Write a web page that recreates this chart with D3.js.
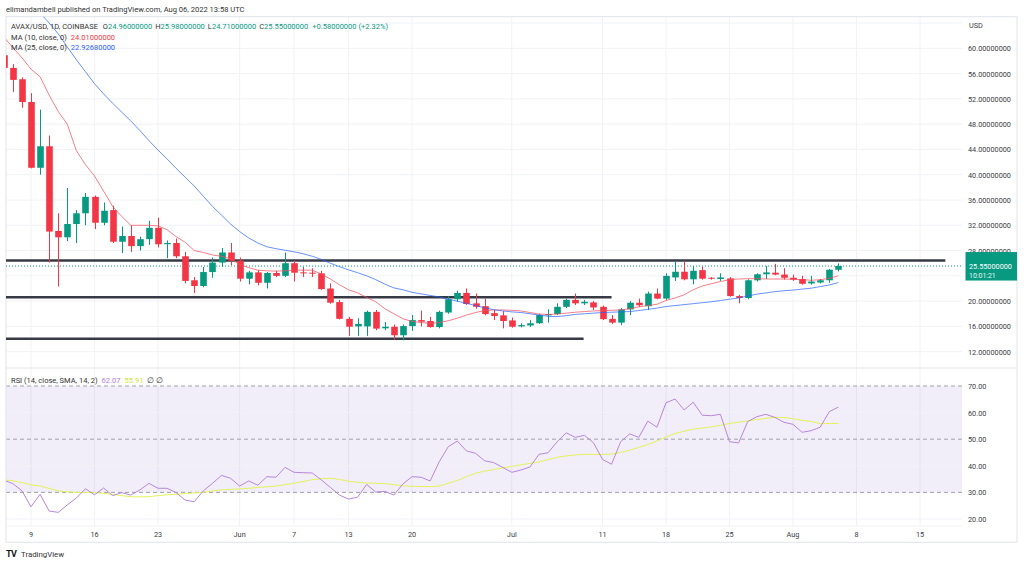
<!DOCTYPE html>
<html><head><meta charset="utf-8">
<script src="https://cdn.jsdelivr.net/npm/d3@7/dist/d3.min.js"></script>
<style>
body{margin:0;background:#fff}
svg{display:block}
text{font-family:Roboto,"Liberation Sans",Arial,sans-serif}
</style></head>
<body><svg id="c" width="1024" height="565"></svg>
<script>
// ---------- DATA ----------
const startDate = "2022-05-06";
const open  = [58.9,56.9,55.1,51.5,41.1,44.5,31.1,30.1,32.2,33.9,36.5,32.4,34.4,29.4,30.3,28.7,29.8,31.6,29.0,29.2,27.1,23.3,22.4,24.6,26.1,27.7,
 26.4,23.55,24.55,22.9,24.45,24.0,26.0,24.55,24.5,24.4,22.0,19.85,17.2,16.0,16.0,18.3,15.7,15.95,14.6,16.05,17.0,16.85,15.9,18.2,20.3,21.3,19.65,19.2,18.1,17.75,
 16.95,16.0,16.15,16.5,17.75,17.95,19.1,20.2,19.65,19.8,19.1,17.2,16.6,18.7,19.75,19.2,21.2,20.4,23.75,24.65,23.45,24.9,23.7,23.5,23.6,20.8,20.5,23.3,24.25,24.5,24.2,
 23.7,23.5,22.8,22.95,23.3,24.96];
const high  = [60.2,57.5,55.4,52.9,50.3,46.2,33.9,37.9,34.4,37.1,36.7,35.6,35.1,31.8,32.0,30.2,32.7,33.2,29.6,29.9,27.8,23.8,25.4,26.9,28.4,29.2,
 26.9,24.8,24.9,24.6,24.8,27.7,26.4,25.4,25.2,24.8,22.8,20.2,17.5,17.3,18.5,18.6,16.7,16.3,16.3,17.8,18.5,17.5,18.5,20.8,21.65,22.0,21.2,20.4,18.6,18.4,
 17.4,16.5,17.0,18.0,18.7,19.65,20.4,21.2,20.2,20.0,19.3,17.8,18.9,20.0,20.4,21.5,22.0,24.4,26.25,26.2,25.5,25.45,23.8,24.4,23.8,21.0,23.45,24.4,25.55,25.9,25.2,
 24.2,24.0,24.0,23.5,25.1,25.98];
const low   = [56.5,53.1,50.6,41.0,40.0,26.1,22.3,29.5,29.2,32.0,31.4,32.0,29.2,27.6,27.8,28.0,28.9,28.5,26.8,26.8,22.8,21.3,22.2,23.7,25.4,25.7,
 23.1,22.65,22.5,22.0,23.8,23.8,23.1,23.8,23.8,21.8,19.6,17.1,14.5,14.5,14.5,15.4,15.4,13.85,13.8,15.3,16.0,15.8,15.7,18.0,19.9,19.4,18.8,17.75,17.0,15.7,
 15.8,15.85,15.9,16.4,16.6,17.8,18.9,19.4,19.4,18.6,17.0,16.4,16.2,17.8,19.1,18.6,20.3,20.2,23.2,23.3,22.65,23.4,23.4,23.2,20.7,19.65,20.3,23.1,23.5,24.1,23.4,
 23.2,22.6,22.6,22.8,22.9,24.71];
const close = [56.9,55.0,51.5,41.1,44.5,31.0,30.1,32.2,33.9,36.5,32.4,34.3,29.4,30.3,28.7,29.8,31.6,29.0,29.2,27.1,23.2,22.4,24.6,26.1,27.7,26.4,
 23.55,24.55,22.9,24.45,24.0,26.0,24.5,24.4,24.35,21.9,19.75,17.2,15.95,16.4,18.3,15.65,15.95,14.6,16.05,17.0,16.75,15.9,18.3,20.3,21.3,19.55,19.1,17.95,17.65,16.85,
 15.95,16.2,16.5,17.8,17.95,19.1,20.2,19.65,19.9,19.0,17.15,16.6,18.7,19.75,19.35,21.2,20.4,24.0,24.65,23.45,24.8,23.55,23.55,23.75,20.8,20.5,23.3,24.25,24.55,24.2,23.7,
 23.4,22.75,23.1,23.3,24.97,25.55];
const ma10 = [61.8,60.1,58.5,56.7,55.5,52.6,50.0,48.0,43.8,41.6,39.8,37.4,35.0,33.4,32.0,32.0,32.0,31.9,31.3,30.2,29.3,28.0,27.7,27.3,27.1,26.7,
 25.8,25.3,24.9,24.8,24.75,24.8,24.9,24.9,24.9,24.3,23.5,22.6,21.8,21.3,20.6,19.9,18.8,18.0,17.2,16.8,16.6,16.5,16.6,16.9,17.3,17.8,18.2,18.5,18.6,18.6,
 18.55,18.45,18.2,17.95,17.9,17.95,18.1,18.25,18.35,18.45,18.5,18.55,18.6,18.8,19.1,19.3,19.5,20.1,20.5,21.0,21.8,22.4,22.75,23.1,23.4,23.5,23.55,23.55,23.5,23.5,23.5,
 23.45,23.4,23.3,23.4,23.6,24.01];
const ma25 = [73.5,72.0,70.0,67.5,65.6,64.0,62.3,60.2,58.2,56.3,54.4,52.8,51.3,49.9,48.5,47.0,45.4,43.9,42.5,41.0,39.6,38.2,36.6,35.0,33.6,32.2,
 31.0,30.0,29.2,28.6,28.3,28.05,27.8,27.5,27.1,26.6,26.0,25.45,24.95,24.5,24.0,23.4,22.7,22.1,21.8,21.4,21.15,20.9,20.65,20.3,20.0,19.65,19.3,18.95,18.65,18.45,
 18.3,18.2,18.0,17.8,17.6,17.55,17.7,17.9,18.0,18.1,18.2,18.25,18.3,18.35,18.5,18.7,18.9,19.15,19.3,19.45,19.6,19.75,19.9,20.1,20.3,20.5,20.8,21.1,21.3,21.5,21.65,
 21.75,21.9,22.05,22.3,22.55,22.9268];
const rsi = [34.6,33.3,30.6,24.6,29.3,23.0,22.5,25.3,27.9,31.4,29.1,31.65,28.8,29.9,29.0,30.9,33.4,31.55,31.55,29.9,27.1,26.5,30.6,33.4,36.4,35.3,
 32.4,34.3,32.7,35.9,35.7,39.4,37.55,37.4,37.3,34.7,31.9,29.0,27.5,28.2,33.0,30.15,30.4,29.0,33.2,35.9,35.7,34.3,41.5,47.2,49.3,45.6,44.7,41.9,41.2,39.4,
 37.55,38.4,39.55,44.3,44.9,49.05,52.4,50.7,51.45,48.7,42.4,40.6,49.05,52.0,50.7,56.8,54.5,63.7,65.1,61.0,63.9,59.0,58.85,59.35,49.05,48.6,56.6,58.45,59.35,58.2,56.35,
 55.6,52.6,53.2,54.5,60.35,62.07];
const rsiSma = [34.7,34.4,33.7,32.8,32.4,31.5,30.6,30.2,30.0,29.95,29.9,29.7,29.2,28.8,28.4,28.3,28.4,28.8,29.1,29.3,29.55,29.8,30.05,30.5,30.95,31.1,
 31.3,31.55,31.85,32.1,32.4,32.9,33.45,34.1,34.8,35.1,35.3,34.9,34.2,33.75,33.55,33.45,33.3,32.9,32.5,32.3,32.2,32.15,32.4,33.4,34.5,35.9,37.2,38.0,38.6,39.2,
 39.8,40.35,40.9,41.45,42.3,43.2,43.7,44.1,44.3,44.3,44.3,44.4,45.0,45.9,46.9,48.0,49.3,50.8,52.2,53.0,53.8,54.2,54.65,55.2,55.9,56.4,56.9,57.35,57.85,58.2,58.15,
 57.7,57.1,56.7,55.8,55.9,55.91];
const priceTicks = [12,16,20,24,28,32,36,40,44,48,52,56,60,64];
const rsiTicks = [20,30,40,50,60,70];
const rsiDashed = [30,50,70];
const timeTicks = ["2022-05-09","2022-05-16","2022-05-23","2022-06-01","2022-06-07","2022-06-13","2022-06-20","2022-07-01","2022-07-11","2022-07-18","2022-07-25","2022-08-01","2022-08-08","2022-08-15"];
const timeTickLabels = ["9","16","23","Jun","7","13","20","Jul","11","18","25","Aug","8","15"];
const levelPrices = [26.43, 20.61, 14.06];
const levelStarts = ["2022-05-06","2022-05-06","2022-05-06"];
const levelEnds = ["2022-08-17T19:00","2022-07-12T00:00","2022-07-08T22:00"];
const lastPrice = 25.55;
const lastCountdown = "10:01:21";

// ---------- LAYOUT ----------
const svg = d3.select("#c");
const L = 6, R = 962, FR = 1017, TOP = 16.7, BOT = 542.3;
const P1top = TOP, P1bot = 368, P2top = 368, P2bot = 526;
const parse = d3.utcParse("%Y-%m-%d"), parseT = d3.utcParse("%Y-%m-%dT%H:%M");
const pd = s => parse(s) || parseT(s);
const dates = d3.range(close.length).map(i => d3.utcDay.offset(pd(startDate), i));

const x = d3.scaleUtc().domain([pd("2022-05-09"), pd("2022-08-15")]).range([31, 920]);
const y = d3.scaleLinear().domain([12, 60]).range([351.7, 48.3]);
const yr = d3.scaleLinear().domain([20, 70]).range([519, 386]);

// scale a text's font so that its width matches a target width
function fit(sel, target) {
  const w = sel.node().getComputedTextLength();
  if (w > 0) sel.attr("font-size", (+sel.attr("font-size")) * target / w);
  return sel;
}

const defs = svg.append("defs");
defs.append("clipPath").attr("id","cp1").append("rect").attr("x",L).attr("y",P1top).attr("width",R-L).attr("height",P1bot-P1top);
defs.append("clipPath").attr("id","cp2").append("rect").attr("x",L).attr("y",P2top).attr("width",R-L).attr("height",P2bot-P2top);

const GRID = "#f0f2f7";
// axis font size derived from the width of a price label
const probe = svg.append("text").attr("font-size",8).text("60.00000000");
fit(probe, 43);
const AFS = +probe.attr("font-size");
probe.remove();

// header
fit(svg.append("text").attr("x",6).attr("y",11.8).attr("font-size",8).attr("fill","#333")
  .text("elimandambell published on TradingView.com, Aug 06, 2022 13:58 UTC"), 239);

// grid
const g = svg.append("g");
timeTicks.forEach(t => {
  g.append("line").attr("x1",x(pd(t))).attr("x2",x(pd(t))).attr("y1",P1top).attr("y2",P2bot).attr("stroke",GRID).attr("stroke-width",1);
});
priceTicks.forEach(v => {
  g.append("line").attr("x1",L).attr("x2",R).attr("y1",y(v)).attr("y2",y(v)).attr("stroke",GRID);
});
// RSI band
const p2 = svg.append("g");
p2.append("rect").attr("x",L).attr("width",R-L).attr("y",yr(70)).attr("height",yr(30)-yr(70)).attr("fill","#7e57c2").attr("fill-opacity",0.1);
rsiTicks.forEach(v => {
  if (rsiDashed.includes(v)) {
    p2.append("line").attr("x1",L).attr("x2",R).attr("y1",yr(v)).attr("y2",yr(v)).attr("stroke","#9598a1").attr("stroke-dasharray","4,3").attr("stroke-width",0.9);
  } else {
    p2.append("line").attr("x1",L).attr("x2",R).attr("y1",yr(v)).attr("y2",yr(v)).attr("stroke",GRID);
  }
});

// frame
svg.append("rect").attr("x",L).attr("y",TOP).attr("width",FR-L).attr("height",BOT-TOP).attr("fill","none").attr("stroke","#e0e3eb").attr("stroke-width",1);
svg.append("line").attr("x1",L).attr("x2",FR).attr("y1",P1bot).attr("y2",P1bot).attr("stroke","#e0e3eb");
svg.append("line").attr("x1",L).attr("x2",R).attr("y1",P2bot).attr("y2",P2bot).attr("stroke","#f0f2f7");

// price pane marks
const p1 = svg.append("g").attr("clip-path","url(#cp1)");
levelPrices.forEach((v,i) => {
  p1.append("line").attr("x1",x(pd(levelStarts[i]))).attr("x2",x(pd(levelEnds[i])))
    .attr("y1",y(v)).attr("y2",y(v)).attr("stroke","#363a45").attr("stroke-width",2.4);
});
p1.append("line").attr("x1",L).attr("x2",R).attr("y1",y(lastPrice)).attr("y2",y(lastPrice))
  .attr("stroke","#089981").attr("stroke-width",1).attr("stroke-dasharray","1,2");

const UP = "#089981", DN = "#f23645";
const bw = 6.6;
const candles = p1.append("g");
dates.forEach((d,i) => {
  const c = close[i] >= open[i] ? UP : DN;
  const cx = Math.round(x(d)) + 0.5;
  candles.append("line").attr("x1",cx).attr("x2",cx).attr("y1",y(high[i])).attr("y2",y(low[i])).attr("stroke",c).attr("stroke-width",1);
  const top = y(Math.max(open[i],close[i])), bot = y(Math.min(open[i],close[i]));
  candles.append("rect").attr("x",cx-bw/2).attr("width",bw).attr("y",top).attr("height",Math.max(1,bot-top)).attr("fill",c);
});
const lineP = arr => d3.line().x((d,i)=>x(dates[i])).y(d=>y(d))(arr);
p1.append("path").attr("d",lineP(ma10)).attr("fill","none").attr("stroke","#f7525f").attr("stroke-opacity",0.75).attr("stroke-width",1);
p1.append("path").attr("d",lineP(ma25)).attr("fill","none").attr("stroke","#2962ff").attr("stroke-opacity",0.7).attr("stroke-width",1);

// RSI lines
const p2c = svg.append("g").attr("clip-path","url(#cp2)");
const lineR = arr => d3.line().x((d,i)=>x(dates[i])).y(d=>yr(d))(arr);
p2c.append("path").attr("d",lineR(rsiSma)).attr("fill","none").attr("stroke","#e4f25a").attr("stroke-width",1);
p2c.append("path").attr("d",lineR(rsi)).attr("fill","none").attr("stroke","#b886dc").attr("stroke-width",1);

// last price label box geometry
const ly = y(lastPrice);
const boxTop = ly - 14, boxBot = ly + 14.5;

// axes labels
const AX = "#3a3d45";
priceTicks.forEach(v => {
  if (v === 64) return;
  const ty = y(v);
  if (ty > boxTop + 2 && ty < boxBot) return; // hidden behind last-price label
  svg.append("text").attr("x",968).attr("y",ty+3).attr("font-size",AFS).attr("fill",AX).text(v.toFixed(8));
});
svg.append("text").attr("x",969).attr("y",27.5).attr("font-size",AFS).attr("fill",AX).text("USD");
rsiTicks.forEach(v => {
  svg.append("text").attr("x",968).attr("y",yr(v)+3).attr("font-size",AFS).attr("fill",AX).text(v.toFixed(2));
});
timeTicks.forEach((t,i) => {
  svg.append("text").attr("x",x(pd(t))).attr("y",537).attr("text-anchor","middle").attr("font-size",AFS).attr("fill",AX).text(timeTickLabels[i]);
});

svg.append("rect").attr("x",965.5).attr("y",boxTop).attr("width",51.5).attr("height",boxBot-boxTop).attr("fill","#089981");
svg.append("text").attr("x",969).attr("y",ly+3).attr("font-size",AFS).attr("fill","#fff").text(lastPrice.toFixed(8));
svg.append("text").attr("x",969).attr("y",ly+12.2).attr("font-size",AFS*0.95).attr("fill","#e8f6f3").text(lastCountdown);

// legends
const leg = svg.append("text").attr("x",11).attr("y",29.2).attr("font-size",8).attr("fill","#333");
leg.append("tspan").text("AVAX/USD, 1D, COINBASE ");
const ohlcLast = [["O",open],["H",high],["L",low],["C",close]];
const n = close.length - 1;
ohlcLast.forEach(([k,arr]) => {
  leg.append("tspan").attr("dx",3).attr("fill","#333").text(k);
  leg.append("tspan").attr("fill",UP).text(arr[n].toFixed(8));
});
const chg = close[n] - close[n-1];
leg.append("tspan").attr("dx",4).attr("fill",UP).text("+" + chg.toFixed(8) + " (+" + (chg/close[n-1]*100).toFixed(2) + "%)");
fit(leg, 362);
const LFS = +leg.attr("font-size");

const l2 = svg.append("text").attr("x",11).attr("y",39.8).attr("font-size",LFS).attr("fill","#333");
l2.append("tspan").text("MA (10, close, 0)");
l2.append("tspan").attr("dx",4).attr("fill",DN).text(ma10[n].toFixed(8));
const l3 = svg.append("text").attr("x",11).attr("y",50.3).attr("font-size",LFS).attr("fill","#333");
l3.append("tspan").text("MA (25, close, 0)");
l3.append("tspan").attr("dx",4).attr("fill","#2962ff").text(ma25[n].toFixed(8));

const l4 = svg.append("text").attr("x",11).attr("y",382.5).attr("font-size",LFS).attr("fill","#333");
l4.append("tspan").text("RSI (14, close, SMA, 14, 2)");
l4.append("tspan").attr("dx",4).attr("fill","#b07ed8").text(rsi[n].toFixed(2));
l4.append("tspan").attr("dx",4).attr("fill","#d4e33c").text(rsiSma[n].toFixed(2));
l4.append("tspan").attr("dx",4).attr("fill","#333").text("∅  ∅");

// TradingView logo
const lg = svg.append("g");
lg.append("text").attr("x",6).attr("y",556.5).attr("font-size",9).attr("font-weight","bold").attr("fill","#131722").attr("letter-spacing",-0.6).text("TV");
fit(lg.append("text").attr("x",21).attr("y",556.5).attr("font-size",8.4).attr("fill","#333").text("TradingView"), 43);
</script>
</body></html>
